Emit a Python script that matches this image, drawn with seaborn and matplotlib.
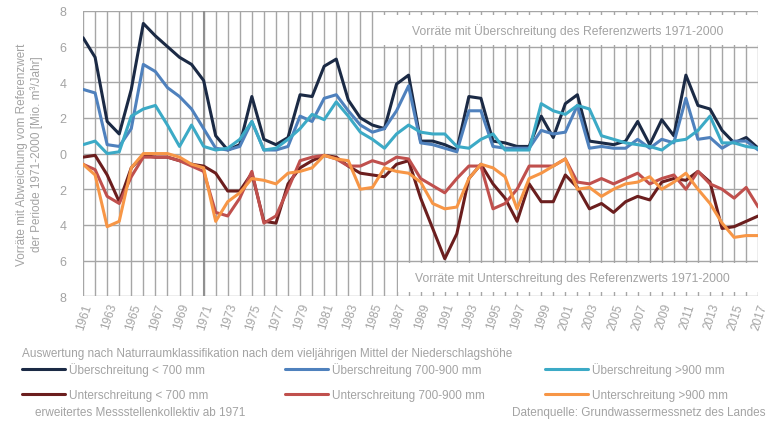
import matplotlib
matplotlib.use('Agg')

import matplotlib.pyplot as plt
from matplotlib.patches import Rectangle
from matplotlib.ticker import FuncFormatter
import seaborn as sns
import pandas as pd

# Jahre 1961-2017
years = list(range(1961, 2018))

# Überschreitung (positive Werte)
ueber_700 = [6.5, 5.4, 1.8, 1.1, 3.6, 7.3, 6.6, 6.0, 5.4, 5.0,
             4.1, 1.0, 0.2, 0.5, 3.2, 0.8, 0.5, 0.9, 3.3, 3.2,
             4.9, 5.3, 3.0, 2.0, 1.6, 1.4, 3.9, 4.4, 0.7, 0.7,
             0.5, 0.2, 3.2, 3.1, 0.7, 0.6, 0.4, 0.4, 2.1, 0.9,
             2.8, 3.3, 0.7, 0.6, 0.5, 0.7, 1.8, 0.5, 1.9, 1.0,
             4.4, 2.7, 2.5, 1.3, 0.6, 0.9, 0.3]
ueber_700_900 = [3.6, 3.4, 0.5, 0.4, 1.4, 5.0, 4.6, 3.7, 3.2, 2.5,
                 1.4, 0.3, 0.2, 0.4, 1.8, 0.2, 0.2, 0.4, 2.1, 1.8,
                 3.1, 3.3, 2.4, 1.6, 1.2, 1.4, 2.4, 3.8, 0.6, 0.5,
                 0.3, 0.1, 2.4, 2.4, 0.4, 0.3, 0.3, 0.3, 1.3, 1.1,
                 1.2, 2.7, 0.3, 0.4, 0.3, 0.3, 0.8, 0.3, 0.8, 0.6,
                 3.1, 0.8, 0.9, 0.3, 0.7, 0.7, 0.2]
ueber_900 = [0.5, 0.7, 0.0, 0.1, 2.1, 2.5, 2.7, 1.6, 0.4, 1.6,
             0.4, 0.2, 0.3, 0.8, 1.8, 0.2, 0.3, 0.8, 1.4, 2.2,
             1.9, 2.9, 2.1, 1.2, 0.8, 0.3, 1.1, 1.6, 1.2, 1.1,
             1.1, 0.4, 0.3, 0.8, 1.1, 0.2, 0.2, 0.2, 2.8, 2.4,
             2.2, 2.7, 2.5, 1.0, 0.8, 0.6, 0.5, 0.4, 0.2, 0.7,
             0.8, 1.3, 2.1, 0.6, 0.6, 0.4, 0.3]

# Unterschreitung (negative Werte)
unter_700 = [-0.2, -0.1, -1.2, -2.7, -0.8, -0.1, -0.2, -0.2, -0.4, -0.6,
             -0.7, -1.1, -2.1, -2.1, -1.1, -3.8, -3.9, -1.7, -0.8, -0.4,
             -0.1, -0.2, -0.7, -1.1, -1.2, -1.3, -0.6, -0.4, -2.5, -4.2,
             -5.9, -4.5, -1.4, -0.6, -1.7, -2.5, -3.8, -1.7, -2.7, -2.7,
             -1.2, -1.9, -3.1, -2.8, -3.3, -2.7, -2.4, -2.6, -1.6, -1.4,
             -1.5, -1.0, -1.6, -4.2, -4.1, -3.8, -3.5]
unter_700_900 = [-0.6, -0.9, -2.4, -2.8, -1.3, -0.2, -0.2, -0.2, -0.4, -0.7,
                 -1.0, -3.3, -3.5, -2.5, -1.0, -3.9, -3.5, -2.0, -0.4, -0.2,
                 -0.1, -0.3, -0.7, -0.7, -0.4, -0.6, -0.2, -0.3, -1.4, -1.8,
                 -2.2, -1.4, -0.7, -0.7, -3.1, -2.8, -2.0, -0.7, -0.7, -0.7,
                 -0.3, -1.6, -1.7, -1.4, -1.7, -1.4, -1.1, -1.7, -1.4, -1.2,
                 -2.0, -1.0, -1.7, -2.0, -2.5, -1.9, -3.0]
unter_900 = [-0.6, -1.2, -4.1, -3.8, -0.8, 0.0, 0.0, 0.0, -0.2, -0.6,
             -0.8, -3.8, -2.7, -2.2, -1.4, -1.5, -1.7, -1.1, -1.0, -0.8,
             -0.1, -0.3, -0.4, -2.0, -1.9, -0.8, -1.0, -1.1, -1.6, -2.8,
             -3.1, -3.0, -1.4, -0.6, -0.8, -1.3, -3.1, -1.4, -1.1, -0.7,
             -0.3, -2.0, -1.9, -2.4, -2.0, -1.7, -1.6, -1.3, -2.0, -1.6,
             -1.1, -2.0, -2.8, -3.9, -4.7, -4.6, -4.6]

serien = {
    "Überschreitung < 700 mm": ueber_700,
    "Unterschreitung < 700 mm": unter_700,
    "Überschreitung 700-900 mm": ueber_700_900,
    "Unterschreitung 700-900 mm": unter_700_900,
    "Überschreitung >900 mm": ueber_900,
    "Unterschreitung >900 mm": unter_900,
}
farben = ["#1b2a45", "#6b1e1e", "#4f81bd", "#c0504d", "#3caac6", "#f79646"]

df = pd.DataFrame([
    {"Jahr": j, "Wert": w, "Serie": name}
    for name, werte in serien.items()
    for j, w in zip(years, werte)
])

sns.set_theme(style="white")
plt.rcParams['font.family'] = ['Liberation Sans', 'DejaVu Sans']
grau = "#a6a6a6"
textgrau = "#a3a3a3"

fig = plt.figure(figsize=(7.69, 4.27), dpi=100)
ax = fig.add_axes([0.108, 0.304, 0.878, 0.668])

sns.lineplot(data=df, x="Jahr", y="Wert", hue="Serie", palette=farben,
             hue_order=list(serien.keys()), linewidth=2.2, ax=ax, legend=True, zorder=3)

ax.set_xlim(1961, 2017)
ax.set_ylim(-8, 8)
ax.set_xticks(years)
ax.set_xticklabels([str(j) if j % 2 == 1 else "" for j in years],
                   rotation=72, ha="right", rotation_mode="anchor", fontsize=8.5, color=textgrau)
ax.set_yticks(range(-8, 9, 2))
ax.yaxis.set_major_formatter(FuncFormatter(lambda v, p: f"{abs(int(v))}"))
ax.tick_params(axis="y", labelsize=9, colors=textgrau, length=0, pad=12)
ax.tick_params(axis="x", length=0, pad=4)
ax.grid(True, color=grau, linewidth=1.0)
for s in ax.spines.values():
    s.set_visible(False)
ax.set_xlabel("")
ax.set_ylabel("Vorräte mit Abweichung vom Referenzwert\nder Periode 1971-2000 [Mio. m³/Jahr]",
              fontsize=8.5, color=textgrau, labelpad=12)

# Erweitertes Messstellenkollektiv ab 1971
ax.axvline(1971, color="#909090", linewidth=1.5, zorder=2)

# Beschriftungsfelder
ax.add_patch(Rectangle((1985.7, 6.1), 31.3, 1.7, facecolor="white", edgecolor="none", zorder=2))
ax.text(2001.2, 6.95, "Vorräte mit Überschreitung des Referenzwerts 1971-2000",
        ha="center", va="center", fontsize=8.7, color=textgrau, zorder=4)
ax.add_patch(Rectangle((1987.1, -7.75), 29.9, 1.6, facecolor="white", edgecolor="none", zorder=2))
ax.text(2001.6, -7.0, "Vorräte mit Unterschreitung des Referenzwerts 1971-2000",
        ha="center", va="center", fontsize=8.7, color=textgrau, zorder=4)

handles, labels = ax.get_legend_handles_labels()
ax.get_legend().remove()
for k, x0 in enumerate([0.015, 0.357, 0.695]):
    fig.legend(handles[2 * k:2 * k + 2], labels[2 * k:2 * k + 2], loc="upper left",
               bbox_to_anchor=(x0, 0.174), frameon=False, fontsize=8.5, handlelength=3.6,
               labelspacing=1.05, handletextpad=0.4, labelcolor=textgrau)

fig.text(0.028, 0.172, "Auswertung nach Naturraumklassifikation nach dem vieljährigen Mittel der Niederschlagshöhe",
         fontsize=8.5, color=textgrau, va="center")
fig.text(0.045, 0.033, "erweitertes Messstellenkollektiv ab 1971",
         fontsize=8.5, color=textgrau, va="center")
fig.text(0.995, 0.033, "Datenquelle: Grundwassermessnetz des Landes",
         fontsize=8.5, color=textgrau, va="center", ha="right")

fig.savefig("out.png", dpi=100)
